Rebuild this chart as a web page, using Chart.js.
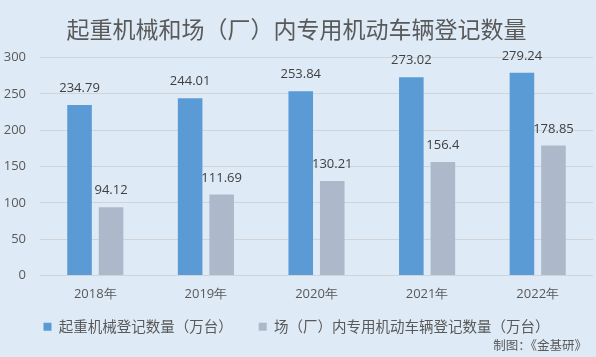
<!DOCTYPE html>
<html>
<head>
<meta charset="utf-8">
<script src="https://cdn.jsdelivr.net/npm/chart.js@4/dist/chart.umd.min.js"></script>
<style>
  html, body { margin: 0; padding: 0; background: #DEEAF6; }
  #wrap { width: 596px; height: 357px; position: relative; }
</style>
</head>
<body>
<div id="wrap"><canvas id="c" width="596" height="357"></canvas></div>
<script>
const title = '起重机械和场（厂）内专用机动车辆登记数量';
const categories = ['2018年', '2019年', '2020年', '2021年', '2022年'];
const seriesNames = ['起重机械登记数量（万台）', '场（厂）内专用机动车辆登记数量（万台）'];
const craneValues = [234.79, 244.01, 253.84, 273.02, 279.24];
const vehicleValues = [94.12, 111.69, 130.21, 156.4, 178.85];
const yTicks = [0, 50, 100, 150, 200, 250, 300];
const credit = '制图：《金基研》';

const FONT = "'Noto Sans CJK SC', 'Noto Sans', sans-serif";
const NUMFONT = "'Open Sans', 'Noto Sans', sans-serif";
const LEGEND_PAD = 26;
const LEGEND_TRIM = 10;

const bgPlugin = {
  id: 'bg',
  beforeDraw(chart) {
    const ctx = chart.ctx;
    ctx.save();
    ctx.fillStyle = '#DEEAF6';
    ctx.fillRect(0, 0, chart.width, chart.height);
    ctx.restore();
  }
};

// keep wide horizontal spacing between legend items but a compact legend box
const legendTrimPlugin = {
  id: 'legendTrim',
  beforeLayout(chart) {
    const lg = chart.legend;
    if (lg && !lg._trimmed) {
      const fit = lg.fit.bind(lg);
      lg.fit = function () { fit(); this.height -= LEGEND_TRIM; };
      lg._trimmed = true;
    }
  },
  afterLayout(chart) {
    const lg = chart.legend;
    if (lg) { lg.top -= LEGEND_TRIM; lg.bottom -= LEGEND_TRIM; }
  }
};

const labelPlugin = {
  id: 'valueLabels',
  afterDatasetsDraw(chart) {
    const ctx = chart.ctx;
    ctx.save();
    ctx.font = '13px ' + NUMFONT;
    ctx.fillStyle = '#404040';
    ctx.textAlign = 'center';
    ctx.textBaseline = 'middle';
    chart.data.datasets.forEach((ds, i) => {
      const meta = chart.getDatasetMeta(i);
      meta.data.forEach((bar, j) => {
        ctx.fillText(String(ds.data[j]), bar.x, bar.y - 16.5);
      });
    });
    ctx.restore();
  }
};

const creditPlugin = {
  id: 'credit',
  afterDraw(chart) {
    const ctx = chart.ctx;
    ctx.save();
    ctx.font = '12.5px ' + FONT;
    ctx.fillStyle = '#595959';
    ctx.textAlign = 'right';
    ctx.textBaseline = 'middle';
    ctx.fillText(credit, 587, 345);
    ctx.restore();
  }
};

new Chart(document.getElementById('c'), {
  type: 'bar',
  data: {
    labels: categories,
    datasets: [
      { label: seriesNames[0], data: craneValues, backgroundColor: '#5B9BD5', borderWidth: 0,
        categoryPercentage: 0.57, barPercentage: 0.78 },
      { label: seriesNames[1], data: vehicleValues, backgroundColor: '#ADB9CA', borderWidth: 0,
        categoryPercentage: 0.57, barPercentage: 0.78 }
    ]
  },
  options: {
    responsive: false,
    animation: false,
    devicePixelRatio: 1,
    layout: { padding: { left: 0, right: 3, top: 0, bottom: 13 } },
    plugins: {
      title: {
        display: true,
        text: title,
        color: '#595959',
        font: { family: FONT, size: 23, weight: 'normal' },
        padding: { top: 15, bottom: 15 }
      },
      legend: {
        position: 'bottom',
        labels: {
          color: '#595959',
          font: { family: FONT, size: 14.5 },
          boxWidth: 8,
          boxHeight: 8,
          padding: LEGEND_PAD
        }
      },
      tooltip: { enabled: false }
    },
    scales: {
      x: {
        grid: { display: false, drawTicks: false },
        border: { display: false },
        afterFit(scale) { scale.height = 28; },
        ticks: { color: '#595959', font: { family: NUMFONT, size: 13 }, padding: 11 }
      },
      y: {
        min: 0,
        max: 300,
        afterBuildTicks(scale) { scale.ticks = yTicks.map(v => ({ value: v })); },
        afterFit(scale) { scale.width = 40; },
        grid: { color: '#D0D4D9', lineWidth: 1, drawTicks: false },
        border: { display: false },
        ticks: { color: '#595959', font: { family: NUMFONT, size: 13 }, padding: 14 }
      }
    }
  },
  plugins: [bgPlugin, legendTrimPlugin, labelPlugin, creditPlugin]
});
</script>
</body>
</html>
